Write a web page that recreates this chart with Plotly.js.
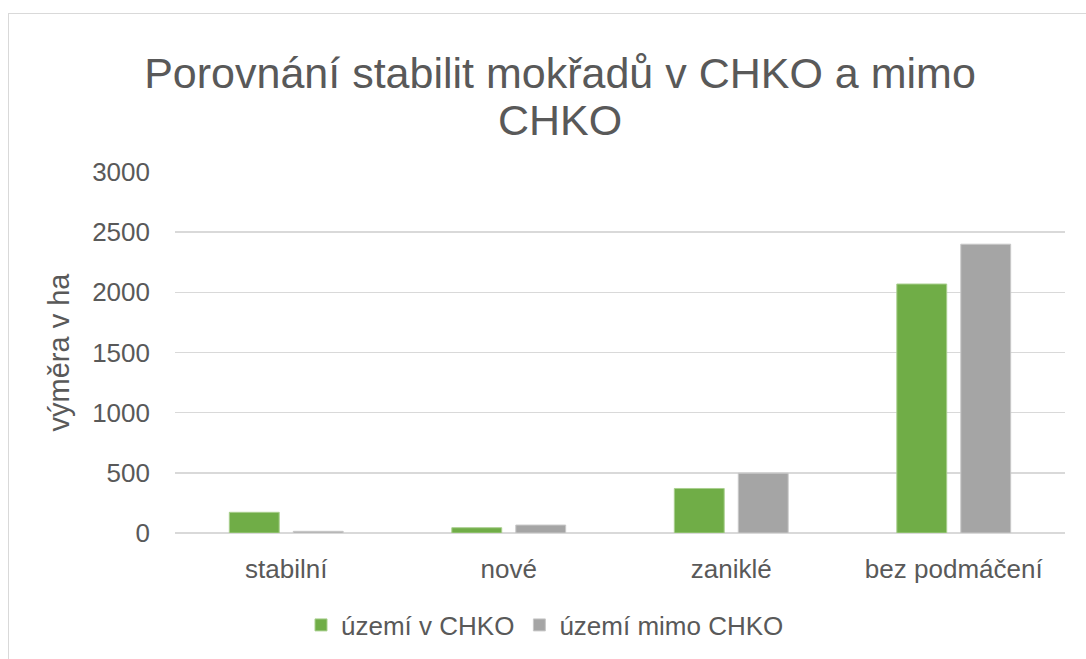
<!DOCTYPE html>
<html>
<head>
<meta charset="utf-8">
<script src="https://cdn.plot.ly/plotly-3.0.1.min.js"></script>
<style>
  html, body { margin: 0; padding: 0; background: #ffffff; overflow: hidden; }
  #wrap { position: relative; width: 1086px; height: 659px; }
  #chart { position: absolute; left: 0; top: 0; width: 1086px; height: 659px; }
  #frame { position: absolute; left: 8px; top: 13px; width: 1200px; height: 800px;
           border: 1.5px solid #d9d9d9; pointer-events: none; box-sizing: border-box; }
</style>
</head>
<body>
<div id="wrap">
  <div id="chart"></div>
  <div id="frame"></div>
</div>
<script>
const categories = ['stabilní', 'nové', 'zaniklé', 'bez podmáčení'];
const seriesNames = ['území v CHKO', 'území mimo CHKO'];
const valuesCHKO = [172, 44, 370, 2069];
const valuesMimo = [14, 66, 497, 2400];
const titleLine1 = 'Porovnání stabilit mokřadů v CHKO a mimo';
const titleLine2 = 'CHKO';
const yTitle = 'výměra v ha';
const yTicks = [0, 500, 1000, 1500, 2000, 2500, 3000];

const FONT = '"Liberation Sans", Arial, sans-serif';
const TXT = '#595959';

const data = [
  { type: 'bar', name: seriesNames[0], x: categories, y: valuesCHKO,
    marker: { color: '#70ad47', line: { color: '#a9cf8e', width: 1 } }, hoverinfo: 'none' },
  { type: 'bar', name: seriesNames[1], x: categories, y: valuesMimo,
    marker: { color: '#a5a5a5', line: { color: '#c8c8c8', width: 1 } }, hoverinfo: 'none' }
];

const layout = {
  width: 1086, height: 659,
  margin: { l: 175, r: 21, t: 172, b: 125 },
  paper_bgcolor: 'rgba(0,0,0,0)', plot_bgcolor: 'rgba(0,0,0,0)',
  font: { family: FONT, color: TXT, size: 26 },
  title: { text: titleLine1, font: { family: FONT, size: 43, color: TXT },
           x: 560 / 1086, xanchor: 'center', xref: 'container',
           y: 1 - 73 / 659, yanchor: 'middle', yref: 'container' },
  annotations: [
    { text: titleLine2, xref: 'paper', yref: 'paper', x: (560 - 175) / 890, y: (534 - 120) / 362,
      xanchor: 'center', yanchor: 'middle', showarrow: false,
      font: { family: FONT, size: 43, color: TXT } }
  ],
  barmode: 'group', bargap: 0.425, bargroupgap: 0.22,
  xaxis: { type: 'category', showgrid: false, zeroline: false, showline: false, ticks: '',
           tickfont: { family: FONT, size: 26, color: TXT }, ticklabelstandoff: 18 },
  yaxis: { range: [0, 3000], tickvals: yTicks, ticktext: yTicks.map(String),
           showgrid: true, gridcolor: '#d9d9d9', gridwidth: 1.5,
           zeroline: true, zerolinecolor: '#d9d9d9', zerolinewidth: 1.5,
           showline: false, ticks: '', ticklabelstandoff: 24,
           tickfont: { family: FONT, size: 26, color: TXT },
           title: { text: yTitle, font: { family: FONT, size: 29, color: TXT }, standoff: 14 } },
  legend: { orientation: 'h', x: (545 - 175) / 890, xanchor: 'center', y: (534 - 625) / 362, yanchor: 'middle',
            font: { family: FONT, size: 26, color: TXT }, itemwidth: 30, traceorder: 'normal',
            bgcolor: 'rgba(0,0,0,0)' },
  showlegend: true
};

Plotly.newPlot('chart', data, layout, { displayModeBar: false, staticPlot: true });
</script>
</body>
</html>
